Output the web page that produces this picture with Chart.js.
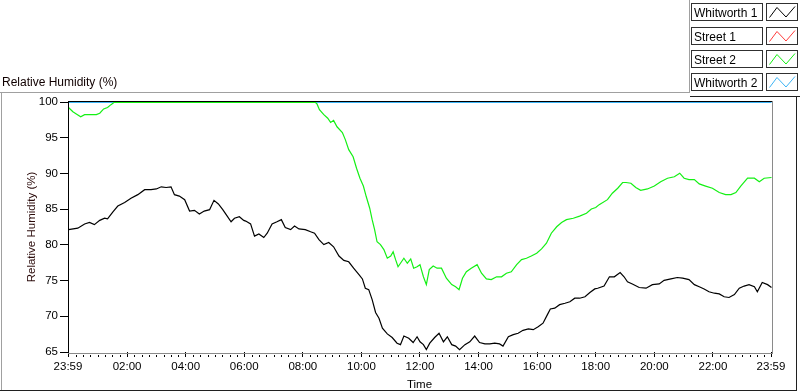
<!DOCTYPE html>
<html><head><meta charset="utf-8">
<script src="https://cdn.jsdelivr.net/npm/chart.js@4/dist/chart.umd.min.js"></script>
<style>html,body{margin:0;padding:0;background:#fff;overflow:hidden}#wrap{width:800px;height:392px;position:relative}</style>
</head><body><div id="wrap"><canvas id="c" width="800" height="392"></canvas></div>
<script>
// ---- data (time in minutes after 23:59 of previous day) ----
const seriesNames = ["Whitworth 1", "Street 1", "Street 2", "Whitworth 2"];
const seriesColors = ["#000000", "#ff3c3c", "#14f014", "#3cb4f5"];

const whitworth1Minutes = [0,19,33,43,53,64,74,80,91,101,115,128,142,156,169,180,190,200,210,217,227,238,248,258,268,278,289,298,307,316,323,333,340,350,359,363,373,381,390,400,407,417,427,436,444,455,463,472,485,496,504,513,523,533,543,554,564,574,584,595,602,608,615,622,629,636,643,653,663,673,680,687,697,706,714,720,727,733,740,750,759,768,776,785,793,801,812,822,832,842,853,863,873,883,890,901,911,921,931,942,952,962,972,981,987,996,1006,1017,1027,1037,1047,1058,1068,1078,1084,1097,1108,1118,1130,1138,1145,1155,1169,1183,1196,1210,1220,1234,1247,1258,1271,1282,1292,1302,1312,1323,1333,1343,1353,1364,1374,1384,1394,1405,1411,1421,1432,1440];
const whitworth1RH = [82.2,82.4,83.0,83.2,82.9,83.5,83.8,83.7,84.7,85.5,86.0,86.6,87.1,87.8,87.8,87.9,88.2,88.1,88.2,87.1,86.9,86.4,84.8,84.9,84.4,84.8,85.0,86.3,85.8,85.0,84.3,83.3,83.8,84.0,83.5,83.4,83.0,81.3,81.6,81.1,81.7,83.0,83.3,83.6,82.5,82.2,82.7,82.3,82.2,81.9,81.7,80.8,80.1,80.4,79.8,78.5,77.9,77.7,76.8,75.9,75.3,74.0,73.8,72.4,70.6,69.8,68.4,67.6,67.1,66.3,66.1,67.3,67.0,66.4,67.2,66.5,66.1,65.4,66.3,67.1,67.7,66.5,67.2,66.1,65.9,65.4,66.1,66.5,67.3,66.4,66.2,66.2,66.3,66.2,65.9,67.2,67.5,67.7,68.1,68.3,68.2,68.6,69.1,70.3,71.1,71.2,71.7,71.9,72.1,72.6,72.6,72.8,73.4,73.9,74.0,74.3,75.6,75.6,76.2,75.6,74.9,74.6,74.1,74.0,74.5,74.6,75.1,75.3,75.5,75.4,75.2,74.5,74.2,73.9,73.5,73.3,73.2,72.8,72.7,73.1,74.0,74.3,74.5,74.2,73.5,74.8,74.5,74.1];

const street1Minutes = [];
const street1RH = [];

const street2Minutes = [0,9,16,25,33,46,57,64,72,80,87,93,506,509,514,523,531,537,543,550,561,567,574,583,590,597,604,610,617,622,627,632,639,646,653,660,665,670,675,680,687,694,701,707,714,720,727,733,739,747,755,764,774,785,793,800,807,815,825,837,846,856,866,877,887,897,907,918,928,938,948,959,969,979,989,1000,1010,1020,1034,1047,1061,1071,1080,1087,1104,1114,1125,1135,1142,1152,1162,1172,1186,1200,1213,1227,1241,1252,1261,1271,1282,1292,1305,1319,1333,1346,1357,1367,1377,1391,1405,1415,1425,1440];
const street2RH = [99.3,98.7,98.4,98.0,98.3,98.3,98.3,98.5,99.1,99.3,99.7,100,100,99.8,99.0,98.3,97.8,97.2,97.5,96.6,95.8,94.8,93.4,92.4,90.8,89.4,88.3,86.8,85.2,83.6,82.2,80.5,80.1,79.4,78.2,78.5,79.1,78.0,77.0,77.5,78.2,77.5,78.1,76.8,77.0,77.3,75.6,74.5,76.6,77.1,76.8,76.8,75.4,74.5,74.2,73.8,75.4,76.3,76.8,77.3,76.1,75.3,75.2,75.6,75.6,76.1,76.3,77.3,78.0,78.2,78.5,78.9,79.5,80.3,81.7,82.6,83.2,83.6,83.8,84.1,84.5,85.1,85.3,85.7,86.4,87.3,88.0,88.8,88.8,88.7,88.1,87.7,87.9,88.3,88.9,89.4,89.6,90.1,89.4,89.2,89.2,88.6,88.3,88.0,87.4,87.1,87.1,87.4,88.3,89.4,89.4,88.9,89.4,89.5];

const whitworth2Minutes = [0, 1440];
const whitworth2RH = [100, 100];

const xTickMinutes = [0,121,241,361,481,601,721,841,961,1081,1201,1321,1440];
const xTickLabels = ["23:59","02:00","04:00","06:00","08:00","10:00","12:00","14:00","16:00","18:00","20:00","22:00","23:59"];
const yMin = 65, yMax = 100, yStep = 5;
const minorTickStep = 15;
const titleText = "Relative Humidity (%)";
const xTitle = "Time";
const yTitle = "Relative Humidity (%)";

// ---- helpers ----
const zip = (xs, ys) => xs.map((x, i) => ({x: x, y: ys[i]}));
const FONT = "'Liberation Sans', Arial, sans-serif";

const framePlugin = {
  id: 'frame',
  beforeDraw(chart) {
    const c = chart.ctx;
    c.save(); c.fillStyle = '#fff'; c.fillRect(0, 0, chart.width, chart.height); c.restore();
  },
  beforeDatasetsDraw(chart) { chart.ctx.save(); chart.ctx.translate(0.5, 0.5); },
  afterDatasetsDraw(chart) { chart.ctx.restore(); },
  afterDraw(chart) {
    const c = chart.ctx, a = chart.chartArea, xs = chart.scales.x;
    c.save();
    // plot borders
    c.fillStyle = '#000';
    c.fillRect(a.left, a.top - 1, a.right - a.left + 1, 1);
    c.fillRect(a.left, a.top - 1, 1, a.bottom - a.top + 2);
    c.fillStyle = '#8a8a8a';
    c.fillRect(a.right + 1, a.top - 1, 1, a.bottom - a.top + 2);
    c.fillRect(a.left, a.bottom + 1, a.right - a.left + 2, 1);
    // minor x ticks
    c.fillStyle = '#000';
    for (let m = 1; m < 1440; m += minorTickStep) {
      if (xTickMinutes.includes(m)) continue;
      const px = Math.round(xs.getPixelForValue(m));
      c.fillRect(px, a.bottom + 3, 1, 2);
    }
    // outer frame
    c.fillStyle = '#a0a0a0';
    c.fillRect(0, 92, 690, 1);
    c.fillRect(689, 0, 1, 93);
    c.fillRect(1, 92, 1, 298);
    c.fillStyle = '#202020';
    c.fillRect(690, 96, 110, 1);
    c.fillRect(796, 96, 1, 295);
    c.fillRect(0, 390, 797, 1);
    // top-left title
    c.fillStyle = '#100000';
    c.font = '12px ' + FONT;
    c.textBaseline = 'alphabetic';
    c.textAlign = 'left';
    c.fillText(titleText, 2, 86);
    // legend
    const tops = [3, 27, 50, 73];
    c.font = '12px ' + FONT;
    seriesNames.forEach((name, i) => {
      const t = tops[i];
      c.strokeStyle = '#303030'; c.lineWidth = 1;
      c.strokeRect(691.5, t + 0.5, 71, 17);
      c.strokeRect(766.5, t + 0.5, 31, 17);
      c.fillStyle = '#000';
      c.fillText(name, 694, t + 14);
      c.strokeStyle = seriesColors[i];
      c.beginPath();
      c.moveTo(769.5, t + 14.5);
      c.lineTo(777, t + 4.5);
      c.lineTo(786, t + 14);
      c.lineTo(795, t + 3.5);
      c.stroke();
    });
    c.restore();
  }
};

new Chart(document.getElementById('c'), {
  type: 'line',
  data: {
    datasets: [
      {label: seriesNames[0], data: zip(whitworth1Minutes, whitworth1RH), borderColor: seriesColors[0], order: 0},
      {label: seriesNames[1], data: zip(street1Minutes, street1RH), borderColor: seriesColors[1], order: 2},
      {label: seriesNames[2], data: zip(street2Minutes, street2RH), borderColor: seriesColors[2], order: 1},
      {label: seriesNames[3], data: zip(whitworth2Minutes, whitworth2RH), borderColor: seriesColors[3], order: 3}
    ].map(d => Object.assign(d, {borderWidth: 1.2, pointRadius: 0, tension: 0, clip: false, fill: false}))
  },
  options: {
    responsive: false, animation: false, devicePixelRatio: 1,
    layout: {padding: {top: 102, right: 29, left: 0, bottom: 0}},
    plugins: {legend: {display: false}, tooltip: {enabled: false}},
    scales: {
      x: {
        type: 'linear', min: 0, max: 1440,
        afterBuildTicks: s => { s.ticks = xTickMinutes.map(v => ({value: v})); },
        afterFit: s => { s.height = 40; s.paddingLeft = 0; s.paddingRight = 0; },
        ticks: {autoSkip: false, maxRotation: 0, color: '#000', padding: 3,
          font: {family: FONT, size: 11.5},
          callback: v => xTickLabels[xTickMinutes.indexOf(v)]},
        grid: {drawOnChartArea: false, drawTicks: true, tickLength: 5, color: '#000'},
        border: {display: false},
        title: {display: true, text: xTitle, color: '#000', font: {family: FONT, size: 11.5}, padding: {top: 1, bottom: 0}}
      },
      y: {
        min: yMin, max: yMax,
        afterFit: s => { s.width = 68; s.paddingTop = 0; s.paddingBottom = 0; },
        ticks: {stepSize: yStep, color: '#000', padding: 2, font: {family: FONT, size: 11.5}},
        grid: {drawOnChartArea: false, drawTicks: true, tickLength: 8, color: '#000'},
        border: {display: false},
        title: {display: true, text: yTitle, color: '#2a0a0a', font: {family: FONT, size: 11.5}, padding: {top: 25, bottom: 0}}
      }
    }
  },
  plugins: [framePlugin]
});
</script></body></html>
